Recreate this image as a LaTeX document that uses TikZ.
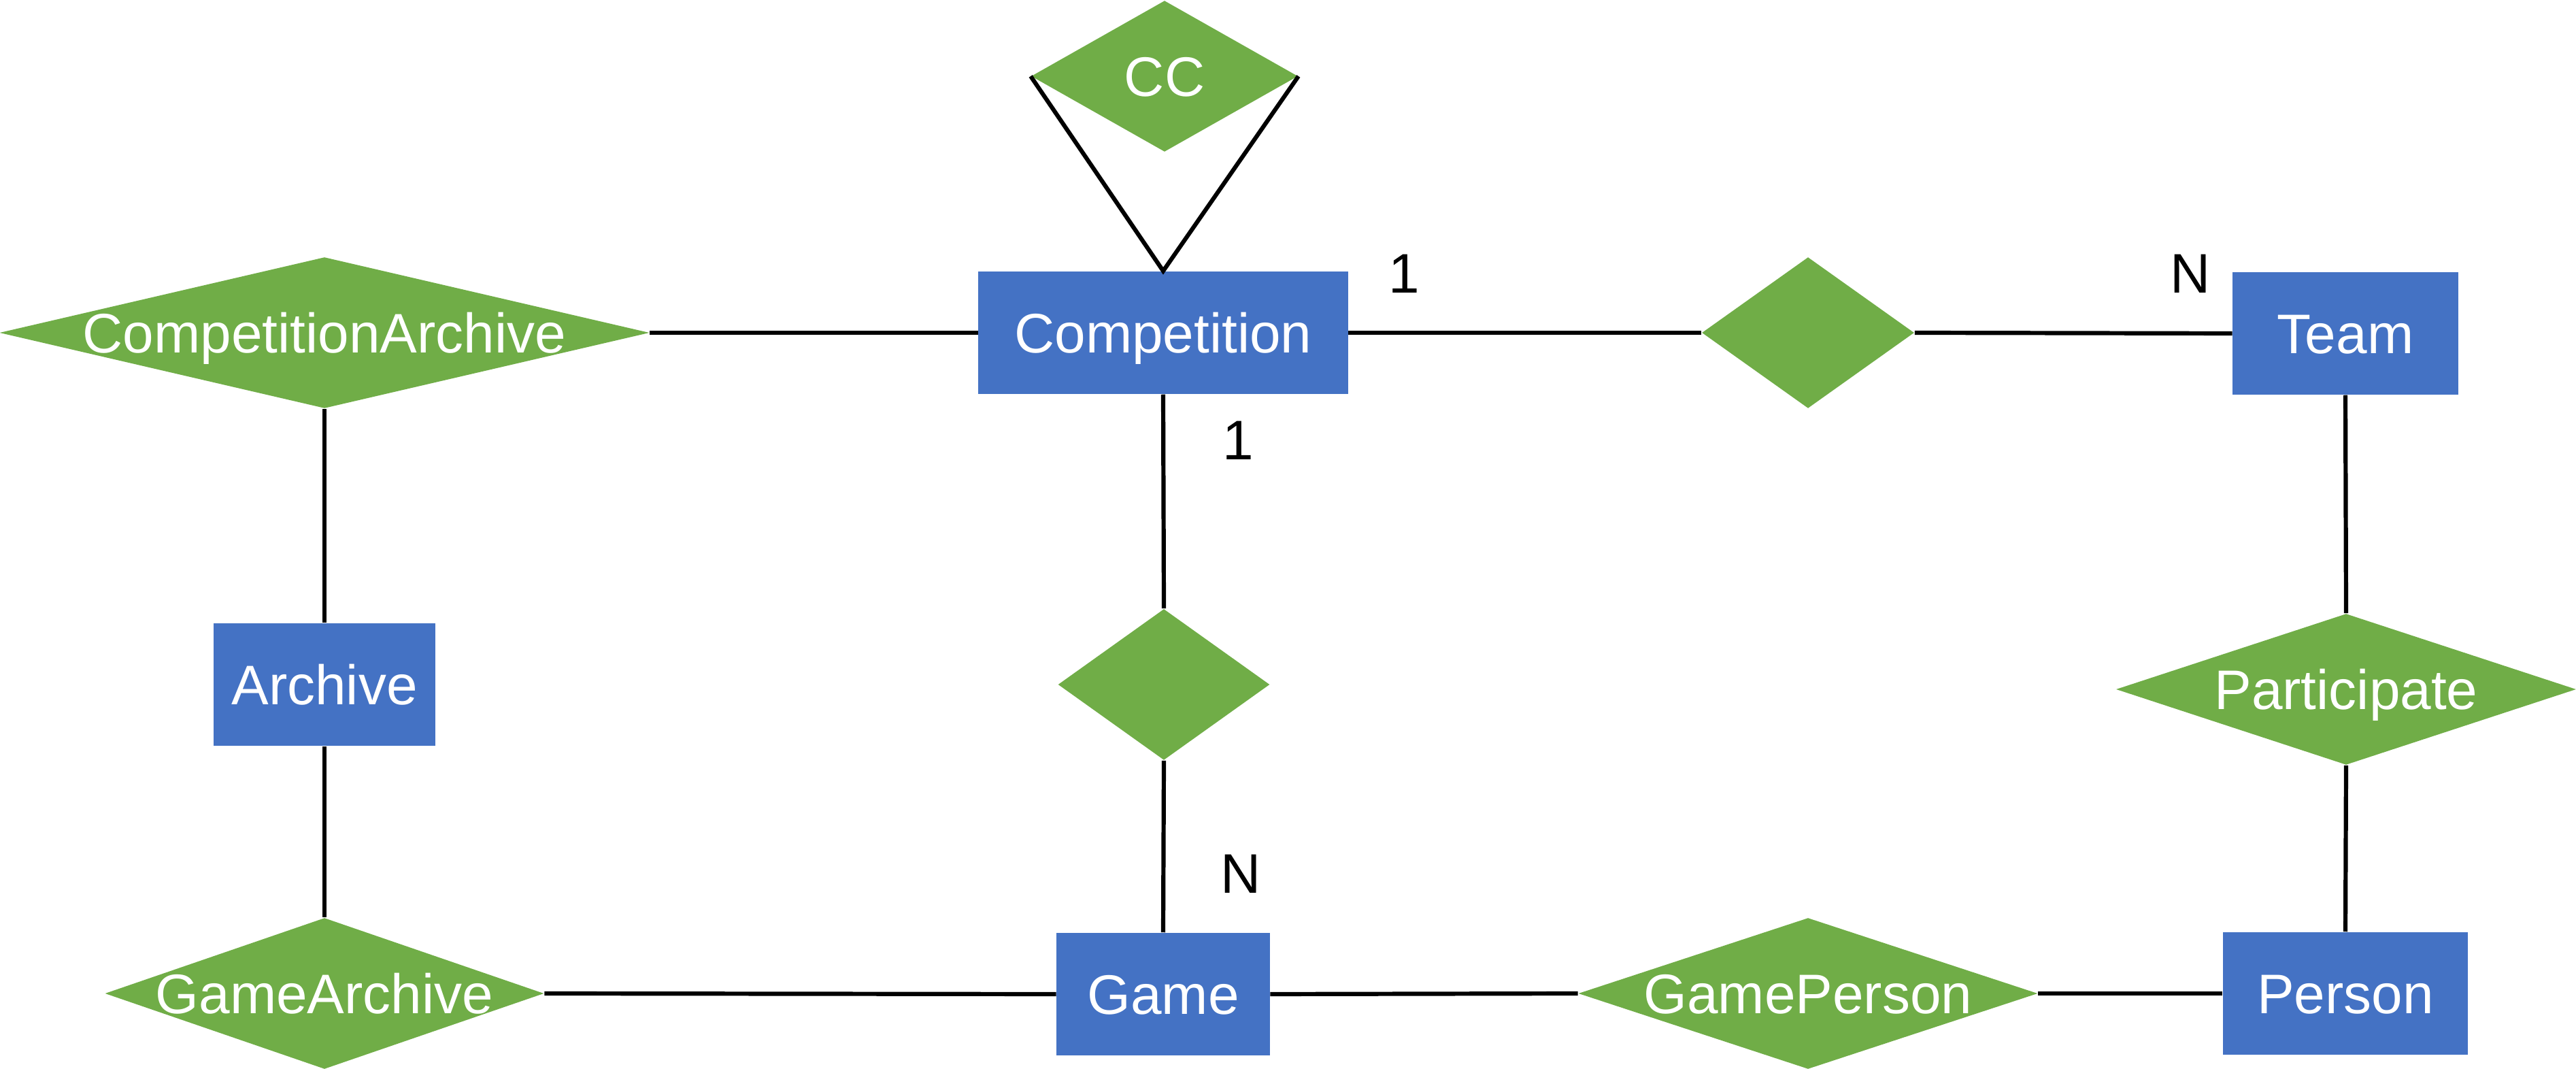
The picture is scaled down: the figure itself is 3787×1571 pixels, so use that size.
\documentclass[tikz,border=0pt]{standalone}
\usepackage{fontspec}
\setmainfont{Liberation Sans}
\usetikzlibrary{shapes.geometric}
\definecolor{ergreen}{HTML}{70AD47}
\definecolor{erblue}{HTML}{4472C4}
\newcommand{\dtext}[1]{\smash{\makebox[0pt]{\raisebox{-8.34pt}{#1}}}}
\begin{document}
\begin{tikzpicture}[x=0.01cm,y=-0.01cm,
  every node/.style={font=\fontsize{23.3}{28}\selectfont},
  entity/.style={rectangle, fill=erblue, text=white, inner sep=0pt,
    text height=16.7pt, text depth=0pt},
  relation/.style={diamond, fill=ergreen, text=white, inner sep=0pt},
  card/.style={inner sep=0pt, text=black, text height=16.7pt, text depth=0pt},
  conn/.style={draw=black, line width=0.062cm}]
\useasboundingbox (0,0) rectangle (3787,1571);
% entities
\node[entity, minimum width=5.43cm, minimum height=1.80cm] (comp) at (1710,489) {Competition};
\node[entity, minimum width=3.31cm, minimum height=1.80cm] (team) at (3448,490) {Team};
\node[entity, minimum width=3.25cm, minimum height=1.80cm] (arch) at (477,1006) {Archive};
\node[entity, minimum width=3.13cm, minimum height=1.80cm] (game) at (1710,1461) {Game};
\node[entity, minimum width=3.60cm, minimum height=1.80cm] (person) at (3448,1460) {Person};
% relationships
\node[relation, minimum width=3.92cm, minimum height=2.22cm] (cc) at (1712,112) {\dtext{CC}};
\node[relation, minimum width=9.55cm, minimum height=2.22cm] (carch) at (477,489) {\dtext{CompetitionArchive}};
\node[relation, minimum width=3.12cm, minimum height=2.22cm] (ct) at (2658,489) {\dtext{}};
\node[relation, minimum width=3.11cm, minimum height=2.22cm] (cg) at (1711,1006) {\dtext{}};
\node[relation, minimum width=6.76cm, minimum height=2.22cm] (part) at (3449,1013) {\dtext{Participate}};
\node[relation, minimum width=6.45cm, minimum height=2.22cm] (garch) at (477,1460) {\dtext{GameArchive}};
\node[relation, minimum width=6.75cm, minimum height=2.22cm] (gp) at (2658,1460) {\dtext{GamePerson}};
% connectors
\draw[conn] (cc.west) -- (comp.north) -- (cc.east);
\draw[conn] (carch.east) -- (comp.west);
\draw[conn] (comp.east) -- (ct.west);
\draw[conn] (ct.east) -- (team.west);
\draw[conn] (comp.south) -- (cg.north);
\draw[conn] (cg.south) -- (game.north);
\draw[conn] (carch.south) -- (arch.north);
\draw[conn] (arch.south) -- (garch.north);
\draw[conn] (garch.east) -- (game.west);
\draw[conn] (game.east) -- (gp.west);
\draw[conn] (gp.east) -- (person.west);
\draw[conn] (team.south) -- (part.north);
\draw[conn] (part.south) -- (person.north);
% cardinalities
\node[card] (c1) at (2064,401) {1};
\node[card] (c2) at (3220,401) {N};
\node[card] (c3) at (1820,646) {1};
\node[card] (c4) at (1824,1283) {N};
\end{tikzpicture}
\end{document}
